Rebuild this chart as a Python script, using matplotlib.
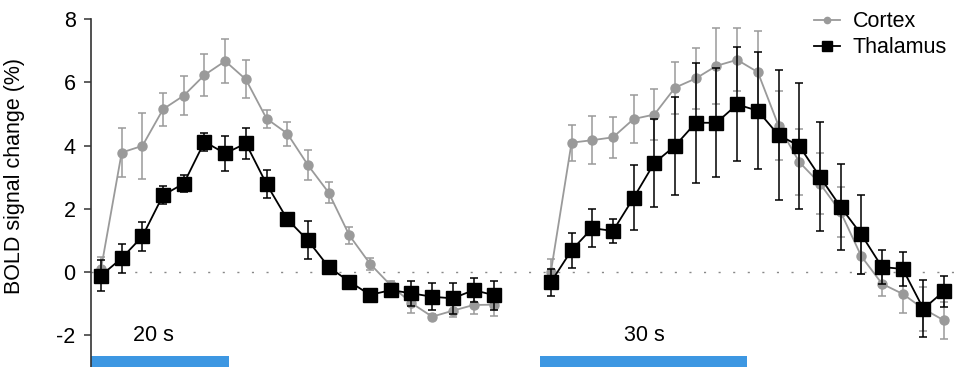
# BOLD time courses, cortex vs thalamus, 20 s and 30 s stimulation
import numpy as np
import matplotlib.pyplot as plt
from matplotlib.lines import Line2D

plt.rcParams['font.family'] = ['Liberation Sans', 'DejaVu Sans']
plt.rcParams['axes.unicode_minus'] = False

TR = 3.0            # sampling interval (s)
offset_30 = 65.2    # where the 30 s block starts on the shared time axis
onset = -1.5        # stimulus onset relative to first sample
durations = [20, 30]
block_labels = ['20 s', '30 s']

# 20 s block
cortex_20 = [0.1, 3.78, 3.99, 5.15, 5.58, 6.23, 6.67, 6.09, 4.85, 4.38,
             3.38, 2.51, 1.16, 0.26, -0.42, -0.98, -1.41, -1.22, -1.04, -1.03]
cortex_20_err = [0.38, 0.78, 1.05, 0.52, 0.63, 0.65, 0.7, 0.6, 0.28, 0.38,
                 0.47, 0.34, 0.27, 0.2, 0.15, 0.3, 0.08, 0.2, 0.27, 0.35]
thal_20 = [-0.11, 0.44, 1.13, 2.43, 2.8, 4.12, 3.75, 4.07, 2.78, 1.67,
           1.0, 0.16, -0.3, -0.72, -0.57, -0.67, -0.78, -0.83, -0.57, -0.73]
thal_20_err = [0.5, 0.46, 0.45, 0.29, 0.27, 0.28, 0.54, 0.5, 0.45, 0.08,
               0.6, 0.2, 0.08, 0.08, 0.1, 0.4, 0.42, 0.5, 0.38, 0.46]

# 30 s block
cortex_30 = [0.0, 4.09, 4.17, 4.26, 4.84, 4.98, 5.83, 6.12, 6.52, 6.71,
             6.32, 4.63, 3.48, 2.8, 1.9, 0.5, -0.37, -0.69, -1.16, -1.53]
cortex_30_err = [0.4, 0.57, 0.75, 0.65, 0.76, 0.8, 0.82, 0.97, 1.2, 1.0,
                 1.3, 1.1, 1.05, 0.95, 0.8, 0.55, 0.4, 0.6, 0.7, 0.58]
thal_30 = [-0.32, 0.69, 1.39, 1.3, 2.35, 3.45, 3.99, 4.72, 4.72, 5.3,
           5.1, 4.33, 3.99, 3.01, 2.06, 1.19, 0.16, 0.1, -1.16, -0.6]
thal_30_err = [0.43, 0.56, 0.6, 0.37, 1.02, 1.4, 1.55, 1.9, 1.72, 1.8,
               1.85, 2.05, 2.0, 1.72, 1.37, 1.25, 0.53, 0.54, 0.9, 0.49]

gray = '#9a9a9a'
blue = '#3d97e2'

t = TR * np.arange(len(cortex_20))
starts = [0.0, offset_30]

fig = plt.figure(figsize=(9.65, 3.67), dpi=100)
ax = fig.add_axes([0.0943, 0.0, 0.9005, 0.9482])

blocks = [(cortex_20, cortex_20_err, thal_20, thal_20_err),
          (cortex_30, cortex_30_err, thal_30, thal_30_err)]

for k, (cx, cxe, th, the) in enumerate(blocks):
    x = t + starts[k]
    ax.errorbar(x, cx, yerr=cxe, color=gray, marker='o', ms=6.5, lw=1.3,
                elinewidth=1.1, capsize=3, capthick=1.1, zorder=2)
    ax.errorbar(x, th, yerr=the, color='black', marker='s', ms=9.5, lw=1.3,
                elinewidth=1.1, capsize=3, capthick=1.1, zorder=3)
    # stimulus bar
    ax.broken_barh([(starts[k] + onset, durations[k])], (-3.0, 0.36),
                   facecolor=blue, edgecolor='none', zorder=1, clip_on=False)
    ax.text(starts[k] + onset + durations[k] / 2 - (0.9 if k == 0 else 0), -2.0,
            block_labels[k], ha='center', va='center', fontsize=15.5)

ax.axhline(0, color='#888888', lw=1, linestyle=(0, (1.5, 9)), zorder=0)

ax.set_xlim(-1.45, 124.5)
ax.set_ylim(-3.0, 8)
ax.set_yticks([-2, 0, 2, 4, 6, 8])
ax.tick_params(axis='y', labelsize=15.5, length=5, width=1.1, pad=6,
               color='#333333')
ax.set_xticks([])
for side in ['top', 'right', 'bottom']:
    ax.spines[side].set_visible(False)
ax.spines['left'].set_color('#333333')
ax.spines['left'].set_linewidth(1.2)

ax.set_ylabel('BOLD signal change (%)', fontsize=15.5)
ax.yaxis.set_label_coords(-0.076, 0.55)

handles = [Line2D([], [], color=gray, marker='o', ms=4.5, lw=1.3),
           Line2D([], [], color='black', marker='s', ms=6.5, lw=1.3)]
ax.legend(handles, ['Cortex', 'Thalamus'], loc='upper right',
          bbox_to_anchor=(1.0, 1.06), frameon=False, fontsize=15.5,
          handlelength=1.2, handletextpad=0.6, labelspacing=0.25,
          borderpad=0.1)

fig.savefig('out.png', dpi=100)
